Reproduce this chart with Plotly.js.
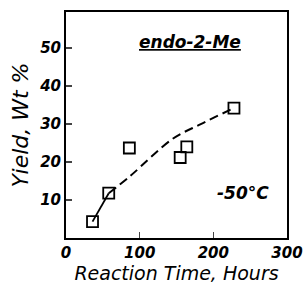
<!DOCTYPE html>
<html><head><meta charset="utf-8">
<script src="https://cdn.plot.ly/plotly-3.0.1.min.js"></script>
<style>html,body{margin:0;padding:0;background:#fff}#c{width:304px;height:286px}</style>
</head><body><div id="c"></div>
<script>
var hours = [36, 58, 86, 155, 164, 228];
var yieldPct = [4.3, 11.8, 23.7, 21.2, 24.0, 34.2];
var fitSolidX = [36, 58];
var fitSolidY = [4.3, 11.8];
var fitDashX = [58, 87, 144, 183, 228];
var fitDashY = [11.8, 16.3, 26.0, 30.0, 34.2];
var xTicks = [0, 100, 200, 300];
var yTicks = [10, 20, 30, 40, 50];

var fnt = "DejaVu Sans, sans-serif";
var traces = [
  {x: fitSolidX, y: fitSolidY, mode: 'lines', line: {color: '#000', width: 1.8}, hoverinfo: 'skip'},
  {x: fitDashX, y: fitDashY, mode: 'lines', line: {color: '#000', width: 2, dash: '9px,5px', shape: 'spline'}, hoverinfo: 'skip'},
  {x: hours, y: yieldPct, mode: 'markers', marker: {symbol: 'square-open', size: 11, color: '#000', line: {width: 1.8, color: '#000'}}}
];
var layout = {
  width: 304, height: 286,
  margin: {l: 66, r: 17, t: 12, b: 48},
  showlegend: false,
  paper_bgcolor: '#fff', plot_bgcolor: '#fff',
  font: {family: fnt, color: '#000'},
  xaxis: {range: [0, 300], tickvals: xTicks, ticks: 'inside', ticklen: 6, tickwidth: 1.5,
    ticklabeloverflow: 'allow',
    showline: true, linewidth: 2, linecolor: '#000', mirror: true, showgrid: false, zeroline: false,
    tickfont: {size: 15, family: fnt, style: 'italic', weight: 'bold'},
    title: {text: '<i>Reaction Time, Hours</i>', font: {size: 19, family: fnt}, standoff: 0}},
  yaxis: {range: [0, 59.5], tickvals: yTicks, ticks: 'inside', ticklen: 6, tickwidth: 1.5,
    showline: true, linewidth: 2, linecolor: '#000', mirror: true, showgrid: false, zeroline: false,
    tickfont: {size: 15, family: fnt, style: 'italic', weight: 'bold'},
    title: {text: '<i>Yield, Wt %</i>', font: {size: 22, family: fnt}, standoff: 4}},
  annotations: [
    {x: 0.56, y: 0.867, xref: 'paper', yref: 'paper', xanchor: 'center', yanchor: 'middle',
      text: '<b><i><u>endo-2-Me</u></i></b>', showarrow: false, font: {size: 17, family: fnt}},
    {x: 0.80, y: 0.2, xref: 'paper', yref: 'paper', xanchor: 'center', yanchor: 'middle',
      text: '<b><i>-50°C</i></b>', showarrow: false, font: {size: 17, family: fnt}}
  ]
};
Plotly.newPlot('c', traces, layout, {displayModeBar: false, staticPlot: true});
</script></body></html>
